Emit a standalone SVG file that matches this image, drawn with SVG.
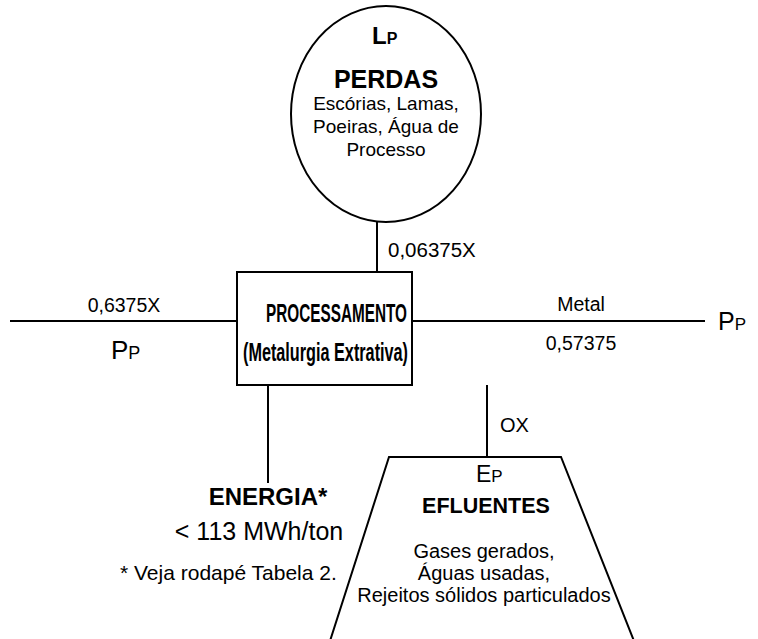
<svg xmlns="http://www.w3.org/2000/svg" width="758" height="639" viewBox="0 0 758 639">
<style>
.ln{stroke:#000;stroke-width:2;fill:none}
.sh{stroke:#000;stroke-width:2;fill:#fff}
text{font-family:"Liberation Sans",Arial,sans-serif;fill:#000}
.b{font-weight:bold}
.t{font-size:19.5px}
.m{text-anchor:middle}
</style>
<rect width="758" height="639" fill="#fff"/>
<g id="connectors">
<line class="ln" x1="377" y1="222" x2="377" y2="272"/>
<line class="ln" x1="10" y1="321" x2="237" y2="321"/>
<line class="ln" x1="412" y1="321" x2="705" y2="321"/>
<line class="ln" x1="268" y1="385" x2="268" y2="483"/>
<line class="ln" x1="487" y1="385" x2="487" y2="457"/>
<text x="388" y="257" font-size="20.5">0,06375X</text>
<text class="t m" x="124" y="312">0,6375X</text>
<text x="111" y="359" font-size="26">P<tspan font-size="18">P</tspan></text>
<text class="t m" x="581" y="311">Metal</text>
<text class="t m" x="581" y="350">0,57375</text>
<text x="718" y="330" font-size="25">P<tspan font-size="17">P</tspan></text>
<text x="500" y="432" font-size="20">OX</text>
</g>
<g id="perdas">
<ellipse class="sh" cx="386" cy="114" rx="95" ry="108"/>
<text class="b" x="372" y="44" font-size="24">L<tspan font-size="16">P</tspan></text>
<text class="b m" x="386" y="88" font-size="25">PERDAS</text>
<text class="m" x="386" y="110" font-size="19">Escórias, Lamas,</text>
<text class="m" x="386" y="133" font-size="19">Poeiras, Água de</text>
<text class="m" x="386" y="156" font-size="19">Processo</text>
</g>
<g id="processamento">
<rect class="sh" x="237" y="272" width="175" height="113"/>
<text class="b" x="266" y="322" font-size="25" textLength="141" lengthAdjust="spacingAndGlyphs">PROCESSAMENTO</text>
<text class="b" x="243" y="361" font-size="25" textLength="165" lengthAdjust="spacingAndGlyphs">(Metalurgia Extrativa)</text>
</g>
<g id="energia">
<text class="b m" x="268" y="505" font-size="24">ENERGIA*</text>
<text class="m" x="259" y="540" font-size="25">&lt; 113 MWh/ton</text>
<text x="120" y="580" font-size="21">* Veja rodapé Tabela 2.</text>
</g>
<g id="efluentes">
<polygon class="sh" points="330,641 389,457 561,457 634,641"/>
<text x="476" y="482" font-size="23">E<tspan font-size="17">P</tspan></text>
<text class="b m" x="486" y="513" font-size="21.5">EFLUENTES</text>
<text class="m" x="484" y="558" font-size="20">Gases gerados,</text>
<text class="m" x="484" y="580" font-size="20">Águas usadas,</text>
<text class="m" x="484" y="602" font-size="20">Rejeitos sólidos particulados</text>
</g>
</svg>
